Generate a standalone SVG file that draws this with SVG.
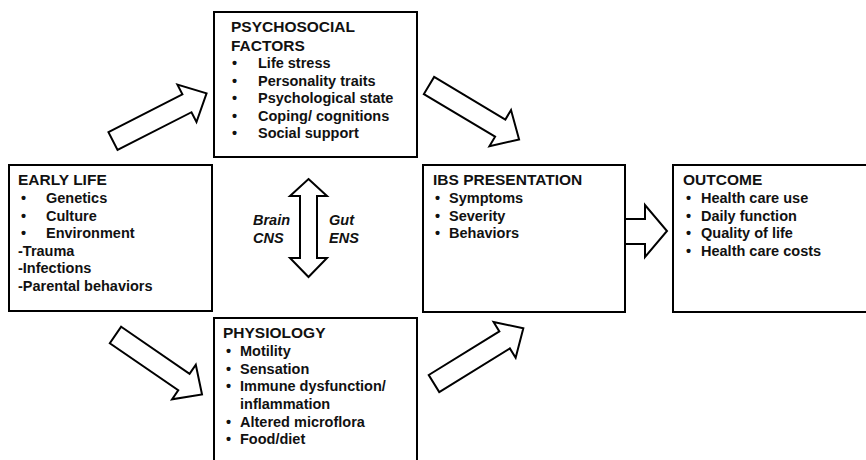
<svg xmlns="http://www.w3.org/2000/svg" width="866" height="460" viewBox="0 0 866 460">
<style>
text{font-family:"Liberation Sans",Arial,sans-serif;font-weight:bold;fill:#111;}
.h{font-size:15.5px;}
.t{font-size:14.5px;}
.i{font-size:14.5px;font-style:italic;}
.box{fill:#fff;stroke:#000;stroke-width:2;}
.arr{fill:#fff;stroke:#000;stroke-width:2;stroke-linejoin:miter;}
</style>
<defs>
<path id="blk" d="M0,-10 L83,-10 L83,-21 L105,0 L83,21 L83,10 L0,10 Z"/>
</defs>
<rect width="866" height="460" fill="#fff"/>
<g id="connectors">
<use href="#blk" class="arr" transform="translate(113,141) rotate(-27)"/>
<use href="#blk" class="arr" transform="translate(429,85.5) rotate(30.9)"/>
<use href="#blk" class="arr" transform="translate(115.5,335) rotate(34.5)"/>
<use href="#blk" class="arr" transform="translate(434,383.5) rotate(-31.7)"/>
<polygon class="arr" points="625,219 645,219 645,205 667,231 645,257 645,244 625,244"/>
<polygon class="arr" points="308.5,179 327,196 317,196 317,258 327,258 308.5,277 290,258 300,258 300,196 290,196"/>
<text class="i" x="253" y="225">Brain</text>
<text class="i" x="253" y="243">CNS</text>
<text class="i" x="329" y="225">Gut</text>
<text class="i" x="329" y="243">ENS</text>
</g>
<g id="early-life">
<rect class="box" x="9" y="165" width="203" height="146"/>
<text class="h" x="18" y="185">EARLY LIFE</text>
<text class="t" x="21" y="203">•</text><text class="t" x="46" y="203">Genetics</text>
<text class="t" x="21" y="221">•</text><text class="t" x="46" y="221">Culture</text>
<text class="t" x="21" y="238">•</text><text class="t" x="46" y="238">Environment</text>
<text class="t" x="18" y="256">-Trauma</text>
<text class="t" x="18" y="273">-Infections</text>
<text class="t" x="18" y="291">-Parental behaviors</text>
</g>
<g id="psychosocial">
<rect class="box" x="214" y="12" width="203" height="145"/>
<text class="h" x="231" y="32">PSYCHOSOCIAL</text>
<text class="h" x="231" y="51">FACTORS</text>
<text class="t" x="232" y="68">•</text><text class="t" x="258" y="68">Life stress</text>
<text class="t" x="232" y="86">•</text><text class="t" x="258" y="86">Personality traits</text>
<text class="t" x="232" y="103">•</text><text class="t" x="258" y="103">Psychological state</text>
<text class="t" x="232" y="121">•</text><text class="t" x="258" y="121">Coping/ cognitions</text>
<text class="t" x="232" y="138">•</text><text class="t" x="258" y="138">Social support</text>
</g>
<g id="physiology">
<rect class="box" x="214" y="318" width="203" height="160"/>
<text class="h" x="223" y="338">PHYSIOLOGY</text>
<text class="t" x="226" y="356">•</text><text class="t" x="240" y="356">Motility</text>
<text class="t" x="226" y="374">•</text><text class="t" x="240" y="374">Sensation</text>
<text class="t" x="226" y="391">•</text><text class="t" x="240" y="391">Immune dysfunction/</text>
<text class="t" x="240" y="409">inflammation</text>
<text class="t" x="226" y="427">•</text><text class="t" x="240" y="427">Altered microflora</text>
<text class="t" x="226" y="444">•</text><text class="t" x="240" y="444">Food/diet</text>
</g>
<g id="ibs-presentation">
<rect class="box" x="423" y="165" width="202" height="147"/>
<text class="h" x="433" y="185">IBS PRESENTATION</text>
<text class="t" x="435" y="203">•</text><text class="t" x="449" y="203">Symptoms</text>
<text class="t" x="435" y="221">•</text><text class="t" x="449" y="221">Severity</text>
<text class="t" x="435" y="238">•</text><text class="t" x="449" y="238">Behaviors</text>
</g>
<g id="outcome">
<rect class="box" x="673" y="165" width="210" height="147"/>
<text class="h" x="683" y="185">OUTCOME</text>
<text class="t" x="686" y="203">•</text><text class="t" x="701" y="203">Health care use</text>
<text class="t" x="686" y="221">•</text><text class="t" x="701" y="221">Daily function</text>
<text class="t" x="686" y="238">•</text><text class="t" x="701" y="238">Quality of life</text>
<text class="t" x="686" y="256">•</text><text class="t" x="701" y="256">Health care costs</text>
</g>
</svg>
